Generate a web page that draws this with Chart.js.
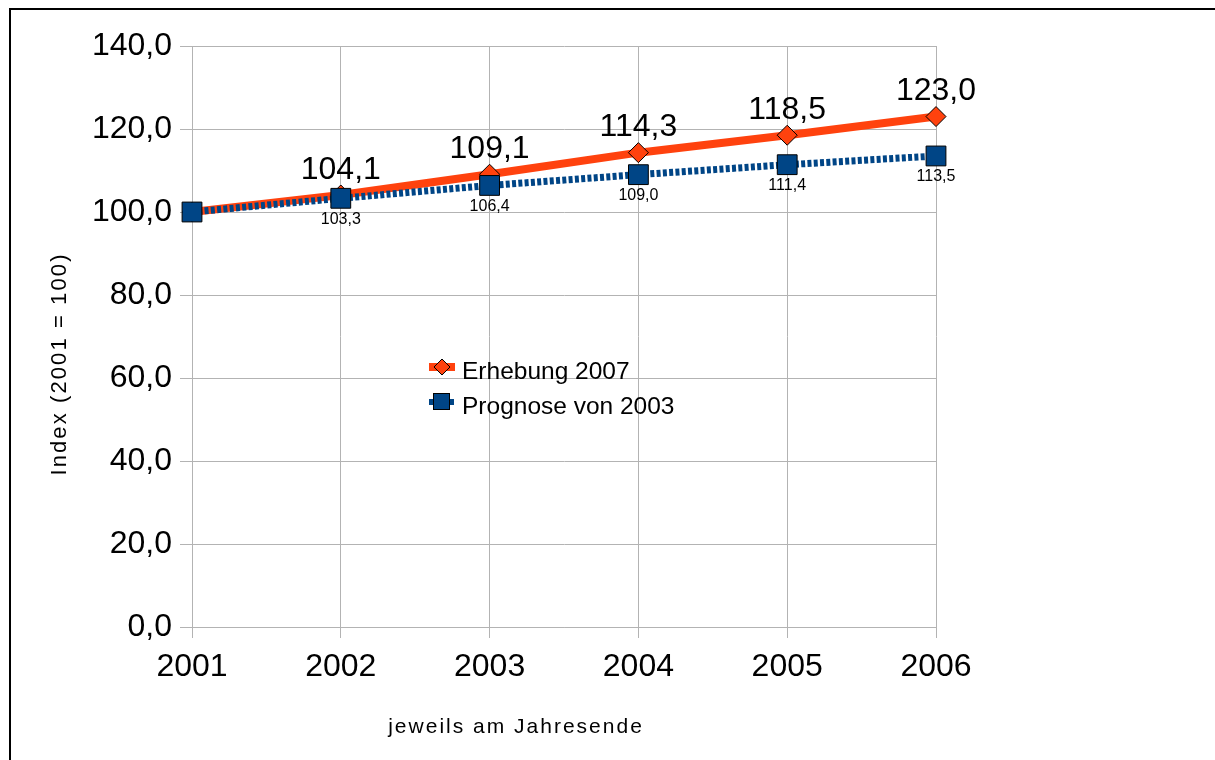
<!DOCTYPE html>
<html><head><meta charset="utf-8">
<script src="https://cdn.jsdelivr.net/npm/chart.js@4.4.1/dist/chart.umd.min.js"></script>
<style>
html,body{margin:0;padding:0;background:#fff;overflow:hidden;}
#wrap{position:relative;width:1215px;height:760px;overflow:hidden;}
#frame{position:absolute;left:9px;top:8px;width:1400px;height:1000px;border:2px solid #000;box-sizing:border-box;}
canvas{position:absolute;left:0;top:0;}
</style></head><body>
<div id="wrap"><div id="frame"></div><canvas id="c" width="1215" height="760"></canvas></div>
<script>
const years = ['2001','2002','2003','2004','2005','2006'];
const erhebung2007 = [100.0, 104.1, 109.1, 114.3, 118.5, 123.0];
const prognose2003 = [100.0, 103.3, 106.4, 109.0, 111.4, 113.5];
const yTickLabels = ['0,0','20,0','40,0','60,0','80,0','100,0','120,0','140,0'];
const seriesNames = ['Erhebung 2007', 'Prognose von 2003'];
const yTitle = 'Index (2001 = 100)';
const xTitle = 'jeweils am Jahresende';

const FONT = "'Liberation Sans', Arial, sans-serif";
const RED = '#ff420e', BLUE = '#004586', GRID = '#b3b3b3';
const fmt = v => v.toFixed(1).replace('.', ',');

const extras = {
  id: 'extras',
  afterDatasetsDraw(chart) {
    const ctx = chart.ctx, xs = chart.scales.x, ys = chart.scales.y;
    ctx.save();
    ctx.fillStyle = '#000';
    ctx.textAlign = 'center';
    ctx.textBaseline = 'middle';
    ctx.font = '32px ' + FONT;
    erhebung2007.forEach((v, i) => {
      if (i === 0) return;
      ctx.fillText(fmt(v), xs.getPixelForValue(i), ys.getPixelForValue(v) - 25);
    });
    ctx.font = '16px ' + FONT;
    prognose2003.forEach((v, i) => {
      if (i === 0) return;
      ctx.fillText(fmt(v), xs.getPixelForValue(i), ys.getPixelForValue(v) + 21);
    });
    ctx.restore();
  },
  afterDraw(chart) {
    const ctx = chart.ctx;
    ctx.save();
    // legend
    ctx.fillStyle = RED;
    ctx.fillRect(429, 363, 26, 8);
    ctx.beginPath();
    ctx.moveTo(442, 359); ctx.lineTo(450, 367); ctx.lineTo(442, 375); ctx.lineTo(434, 367); ctx.closePath();
    ctx.fillStyle = RED; ctx.fill();
    ctx.strokeStyle = '#000'; ctx.lineWidth = 1; ctx.stroke();

    ctx.strokeStyle = BLUE; ctx.lineWidth = 6; ctx.setLineDash([4, 3]);
    ctx.beginPath(); ctx.moveTo(429, 402); ctx.lineTo(456, 402); ctx.stroke();
    ctx.setLineDash([]);
    ctx.fillStyle = BLUE; ctx.fillRect(434, 394, 15, 15);
    ctx.strokeStyle = '#000'; ctx.lineWidth = 1; ctx.strokeRect(433.5, 393.5, 16, 16);

    ctx.fillStyle = '#000';
    ctx.textAlign = 'left'; ctx.textBaseline = 'alphabetic';
    ctx.font = '24.5px ' + FONT;
    ctx.fillText(seriesNames[0], 462, 379);
    ctx.fillText(seriesNames[1], 462, 414);

    // axis titles
    ctx.font = '21px ' + FONT;
    ctx.letterSpacing = '2px';
    ctx.textAlign = 'center';
    ctx.fillText(xTitle, 516, 733);
    ctx.font = '22px ' + FONT;
    ctx.letterSpacing = '2.1px';
    ctx.translate(66, 364);
    ctx.rotate(-Math.PI / 2);
    ctx.fillText(yTitle, 0, 0);
    ctx.restore();
  }
};

new Chart(document.getElementById('c'), {
  type: 'line',
  data: {
    labels: years,
    datasets: [
      {
        label: seriesNames[0], data: erhebung2007, order: 2,
        borderColor: RED, borderWidth: 8, tension: 0,
        pointStyle: 'rectRot', pointRadius: 10, pointHoverRadius: 10,
        pointBackgroundColor: RED, pointBorderColor: '#000', pointBorderWidth: 1
      },
      {
        label: seriesNames[1], data: prognose2003, order: 1,
        borderColor: BLUE, borderWidth: 7, borderDash: [4, 2.3], tension: 0,
        pointStyle: 'rect', pointRadius: 14, pointHoverRadius: 14,
        pointBackgroundColor: BLUE, pointBorderColor: '#000', pointBorderWidth: 1
      }
    ]
  },
  options: {
    responsive: false,
    animation: false,
    events: [],
    layout: { padding: { left: 0, top: 46, right: 279, bottom: 0 } },
    plugins: { legend: { display: false }, tooltip: { enabled: false } },
    scales: {
      x: {
        offset: false,
        grid: { color: GRID, lineWidth: 1, tickLength: 11, offset: false },
        border: { color: GRID, width: 1 },
        ticks: { color: '#000', font: { size: 32, family: FONT }, padding: 10, maxRotation: 0, autoSkip: false },
        afterFit: s => { s.height = 133; }
      },
      y: {
        min: 0, max: 140,
        grid: { color: GRID, lineWidth: 1, tickLength: 12 },
        border: { color: GRID, width: 1 },
        ticks: { stepSize: 20, color: '#000', font: { size: 32, family: FONT }, padding: 8,
                 callback: (v, i) => yTickLabels[i] },
        afterFit: s => { s.width = 192; }
      }
    }
  },
  plugins: [extras]
});
</script>
</body></html>
